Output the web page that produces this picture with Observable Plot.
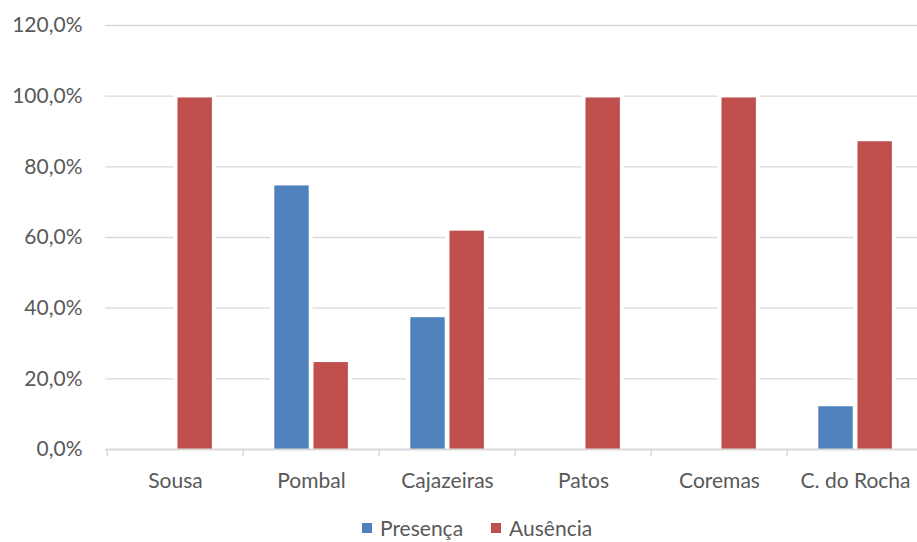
<!DOCTYPE html>
<html>
<head>
<meta charset="utf-8">
<script src="https://cdn.jsdelivr.net/npm/d3@7"></script>
<script src="https://cdn.jsdelivr.net/npm/@observablehq/plot@0.6"></script>
<style>
  html, body { margin: 0; padding: 0; background: #fff; }
  #wrap { position: relative; width: 917px; height: 542px; overflow: hidden; font-family: Lato, sans-serif; }
  #legend { position: absolute; left: 0; top: 516px; height: 24px; width: 917px; display: flex; align-items: center; padding-left: 362px; box-sizing: border-box; font-size: 21px; line-height: 24px; color: #595959; }
  #legend .item { display: flex; align-items: center; margin-right: 28px; }
  #legend .sw { width: 10px; height: 10px; margin-right: 8px; }
</style>
</head>
<body>
<div id="wrap"></div>
<script>
const cities = ["Sousa", "Pombal", "Cajazeiras", "Patos", "Coremas", "C. do Rocha"];
const presenca = [0, 74.6, 37.3, 0, 0, 12.1];
const ausencia = [99.5, 24.6, 61.8, 99.5, 99.5, 87.1];
const seriesNames = ["Presença", "Ausência"];
const seriesColors = ["#4f81bd", "#c0504d"];
const yTicks = [0, 20, 40, 60, 80, 100, 120];

const seriesValues = [presenca, ausencia];
const data = cities.flatMap((c, i) => seriesNames.map((s, j) => ({city: c, series: s, value: seriesValues[j][i]})))
  .filter(d => d.value > 0);

const fmt = d => d.toFixed(1).replace(".", ",") + "%";
const insets = [[31.3, 70.3], [70.5, 31.1]];
const grid = "#d9d9d9";

const marks = [
  Plot.ruleY(yTicks.filter(t => t > 0), {stroke: grid, strokeWidth: 1.3})
];
seriesNames.forEach((s, j) => {
  const sub = data.filter(d => d.series === s);
  marks.push(Plot.barY(sub, {x: "city", y: "value", fill: "white", stroke: "white", strokeWidth: 8,
    insetLeft: insets[j][0], insetRight: insets[j][1]}));
});
seriesNames.forEach((s, j) => {
  const sub = data.filter(d => d.series === s);
  marks.push(Plot.barY(sub, {x: "city", y: "value", fill: "series",
    insetLeft: insets[j][0], insetRight: insets[j][1]}));
});
marks.push(Plot.ruleY([0], {stroke: grid, strokeWidth: 2}));
marks.push(Plot.ruleX(cities, {x: d => d, dx: -68.3, y1: 0, y2: -2, stroke: grid, strokeWidth: 1.5}));
marks.push(Plot.axisX({tickSize: 0, tickPadding: 24, fontSize: 21, fill: "#595959"}));
marks.push(Plot.axisY({ticks: yTicks, tickSize: 0, tickPadding: 23, tickFormat: fmt, fontSize: 21, fill: "#595959"}));

const chart = Plot.plot({
  width: 917,
  height: 505,
  marginTop: 25,
  marginBottom: 56,
  marginLeft: 105,
  marginRight: 0,
  style: {fontFamily: "Lato, sans-serif", background: "white", overflow: "hidden"},
  x: {domain: cities, range: [105, 924.6], padding: 0, label: null},
  y: {domain: [0, 120], label: null},
  color: {domain: seriesNames, range: seriesColors},
  marks
});
document.getElementById("wrap").appendChild(chart);

const legend = document.createElement("div");
legend.id = "legend";
seriesNames.forEach((s, j) => {
  const it = document.createElement("div");
  it.className = "item";
  const sw = document.createElement("div");
  sw.className = "sw";
  sw.style.background = seriesColors[j];
  const tx = document.createElement("span");
  tx.textContent = s;
  it.appendChild(sw);
  it.appendChild(tx);
  legend.appendChild(it);
});
document.getElementById("wrap").appendChild(legend);
</script>
</body>
</html>
